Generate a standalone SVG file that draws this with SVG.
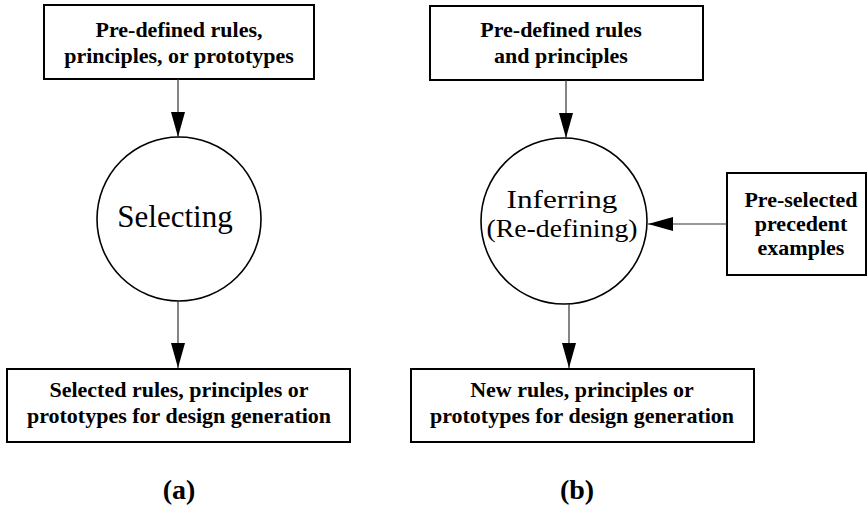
<svg xmlns="http://www.w3.org/2000/svg" width="868" height="507" viewBox="0 0 868 507">
  <style>
    .box { fill: #fff; stroke: #000; stroke-width: 2; }
    .proc { fill: #fff; stroke: #000; stroke-width: 1.6; }
    text { font-family: 'Liberation Serif', 'Times New Roman', Tinos, 'DejaVu Serif', serif; fill: #000; text-anchor: middle; }
    .bt { font-weight: bold; font-size: 22px; }
    .ct { font-size: 31px; }
    .ct2 { font-size: 26px; }
    .lbl { font-weight: bold; font-size: 28px; }
    .conn line { stroke: #333; stroke-width: 1.2; marker-end: url(#arrow); }
  </style>
  <defs>
    <marker id="arrow" markerUnits="userSpaceOnUse" markerWidth="26" markerHeight="14" refX="25" refY="7" orient="auto">
      <path d="M0,0 L25,7 L0,14 Z" fill="#000"/>
    </marker>
  </defs>

  <!-- (a) selecting -->
  <g id="a-input">
    <rect class="box" x="44" y="5" width="270" height="74"/>
    <text class="bt" x="179" y="37">Pre-defined rules,</text>
    <text class="bt" x="179" y="63">principles, or prototypes</text>
  </g>
  <g id="a-selecting">
    <circle class="proc" cx="179" cy="219" r="82"/>
    <text class="ct" x="175" y="227">Selecting</text>
  </g>
  <g id="a-output">
    <rect class="box" x="7" y="369" width="343" height="73"/>
    <text class="bt" x="179" y="397">Selected rules, principles or</text>
    <text class="bt" x="179" y="423">prototypes for design generation</text>
  </g>
  <text class="lbl" x="179" y="499">(a)</text>

  <!-- (b) inferring -->
  <g id="b-input">
    <rect class="box" x="430" y="6" width="273" height="74"/>
    <text class="bt" x="561" y="37">Pre-defined rules</text>
    <text class="bt" x="561" y="63">and principles</text>
  </g>
  <g id="b-inferring">
    <circle class="proc" cx="564" cy="221" r="83"/>
    <text class="ct2" x="562" y="208" textLength="111" lengthAdjust="spacingAndGlyphs">Inferring</text>
    <text class="ct2" x="562" y="237" textLength="151" lengthAdjust="spacingAndGlyphs">(Re-defining)</text>
  </g>
  <g id="b-precedents">
    <rect class="box" x="727" y="173" width="139" height="102"/>
    <text class="bt" x="801" y="207">Pre-selected</text>
    <text class="bt" x="801" y="231">precedent</text>
    <text class="bt" x="801" y="255">examples</text>
  </g>
  <g id="b-output">
    <rect class="box" x="411" y="369" width="343" height="73"/>
    <text class="bt" x="582" y="397">New rules, principles or</text>
    <text class="bt" x="582" y="423">prototypes for design generation</text>
  </g>
  <text class="lbl" x="577" y="499">(b)</text>

  <g id="connectors" class="conn">
    <line x1="178" y1="79" x2="178" y2="137"/>
    <line x1="178" y1="301" x2="178" y2="368"/>
    <line x1="566" y1="80" x2="566" y2="138"/>
    <line x1="569" y1="304" x2="569" y2="368"/>
    <line x1="727" y1="224" x2="648" y2="224"/>
  </g>
</svg>
